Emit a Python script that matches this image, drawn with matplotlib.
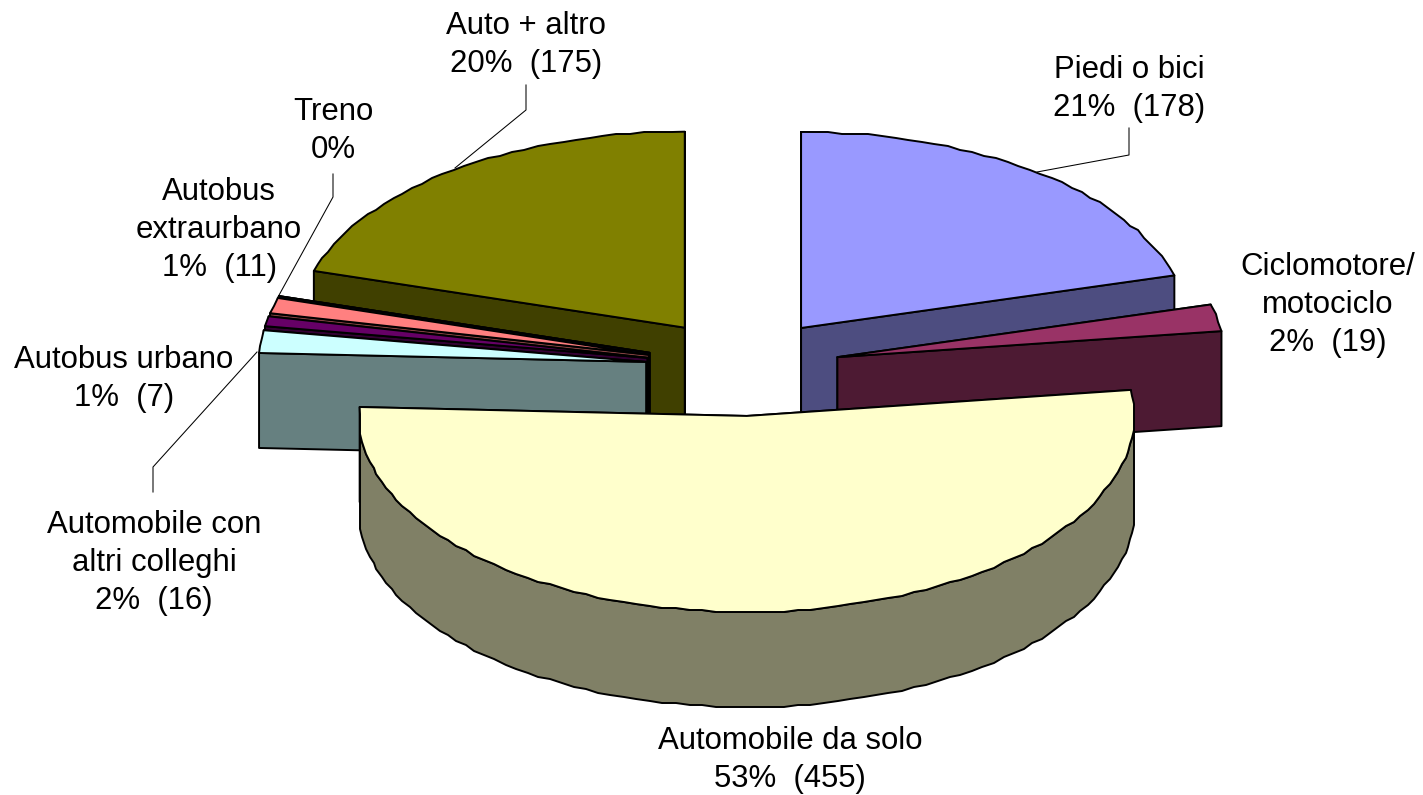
import numpy as np
import matplotlib
matplotlib.use("Agg")
import matplotlib.pyplot as plt
from matplotlib.patches import Polygon

categories = ["Piedi o bici", "Ciclomotore/\nmotociclo", "Automobile da solo",
              "Automobile con\naltri colleghi", "Autobus urbano",
              "Autobus\nextraurbano", "Treno", "Auto + altro"]
values = [178, 19, 455, 16, 7, 11, 0, 175]
top_colors = ["#9999FF", "#993366", "#FFFFCC", "#CCFFFF", "#660066", "#FF8080", "#0066CC", "#808000"]
side_colors = ["#4D4D80", "#4D1A33", "#808066", "#668080", "#330033", "#804040", "#003366", "#404000"]
draw_order = [7, 0, 6, 5, 4, 3, 1, 2]

# label anchor positions (pixels) and leader lines
label_pos = [(1129, 89), (1328, 305), (790, 760), (154, 563), (124, 379), (219, 230), (333, 131), (526, 45)]
leaders = [[(1129, 128), (1129, 155), (1037, 172)],
           [(153, 492), (153, 467), (257, 352)],
           [(333, 174), (333, 197), (278, 297)],
           [(526, 85), (526, 110), (455, 168)]]

CX, CY, RX, RY, DEPTH, EXPLODE = 742.5, 367.0, 387.5, 196.0, 95.0, 0.25
STEP = 2.0
GRID = 2.0

plt.rcParams["font.family"] = ["Liberation Sans", "DejaVu Sans"]
fig = plt.figure(figsize=(14.23, 7.95), dpi=100)
ax = fig.add_axes([0, 0, 1, 1])
ax.set_xlim(0, 1423)
ax.set_ylim(795, 0)
ax.axis("off")

total = sum(values)
edges = np.concatenate([[0], np.cumsum(values)]) / total * 360.0


def arc(a0, a1):
    n = max(int(abs(a1 - a0) / STEP), 1)
    return np.linspace(a0, a1, n + 1)


def rough(v):
    out = np.round(v / GRID) * GRID
    out[0], out[-1] = v[0], v[-1]
    return out


def add(points, color, z):
    ax.add_patch(Polygon(points, closed=True, facecolor=color, edgecolor="black",
                         linewidth=1.4, joinstyle="round", zorder=z))


for z, i in enumerate(draw_order):
    a0, a1 = edges[i], edges[i + 1]
    mid = np.radians((a0 + a1) / 2)
    cx = CX + EXPLODE * RX * np.sin(mid)
    cy = CY - EXPLODE * RY * np.cos(mid)
    base = z * 10

    def pt(a):
        return cx + RX * np.sin(a), cy - RY * np.cos(a)

    faces = sorted((a0, a1), key=lambda a: pt(np.radians(a))[1])
    for k, a in enumerate(faces):
        x, y = pt(np.radians(a))
        add([(cx, cy), (x, y), (x, y + DEPTH), (cx, cy + DEPTH)], side_colors[i], base + k)

    deg = arc(a0, a1)
    xs, ys = pt(np.radians(deg))
    xs, ys = rough(xs), rough(ys)

    front = (deg >= 90.0) & (deg <= 270.0)
    if front.sum() > 1:
        fx, fy = xs[front], ys[front]
        outer = list(zip(fx, fy)) + list(zip(fx[::-1], fy[::-1] + DEPTH))
        add(outer, side_colors[i], base + 2)

    add([(cx, cy)] + list(zip(xs, ys)), top_colors[i], base + 3)

for path in leaders:
    xs, ys = zip(*path)
    ax.plot(xs, ys, color="black", linewidth=0.75, zorder=200)

for name, v, (x, y) in zip(categories, values, label_pos):
    pct = round(100 * v / total)
    second = f"{pct}%  ({v})" if v else f"{pct}%"
    ax.text(x, y, f"{name}\n{second}", ha="center", va="center", fontsize=22.4,
            linespacing=1.35, color="black", zorder=300)

fig.savefig("out.png", dpi=100)
